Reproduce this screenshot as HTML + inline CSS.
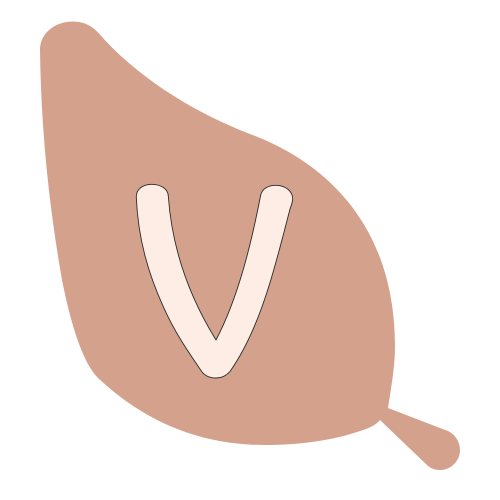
<!DOCTYPE html>
<html lang="en">
<head>
<meta charset="utf-8">
<title>Leaf V icon</title>
<style>
html,body{margin:0;padding:0;background:#fff;width:500px;height:500px;overflow:hidden}
svg{display:block}
</style>
</head>
<body>
<svg width="500" height="500" viewBox="0 0 500 500" xmlns="http://www.w3.org/2000/svg">
  <path fill="#d4a28c" d="M40 50 C40 33 55 21.500 73 21.500 C84 21.500 92 26 98.500 33 C135 75 190 111 250 134 C320 160 395 220 395 347 C395 367 391 388 388 408 L446.500 430.500 C454 433 460 441 460 450 C460 461 451 470 440 470 C435 470 431 468.500 427.500 465.500 L380 420 C376 425 370 428 360 431 C335 440 300 445 265 445 C200 445 145 422 98 378 C84 364 72 330 62 280 C48 200 41 125 40 50 Z"/>
  <path fill="#fdede4" stroke="#2b2b2b" stroke-width="0.9" stroke-linejoin="round" d="M136.300 197 C136.300 189 143 184.300 151.700 184.300 C161 184.300 168 189 168.300 196 C171 235 182 285 216 340 C238 298 251 245 260.700 195 C262 189 268 185.300 276 185.300 C285 185.300 292.700 191 292.700 199 C292.700 202 291.500 205 290 209 C282 240 275 268 266.700 293 C257 323 245 350 230 371.500 C226 376 221 378 216 378 C210 378 205 376 201.700 371.500 C187 350 174 331 163.300 306.700 C149 275 138 240 136.300 197 Z"/>
</svg>
</body>
</html>
